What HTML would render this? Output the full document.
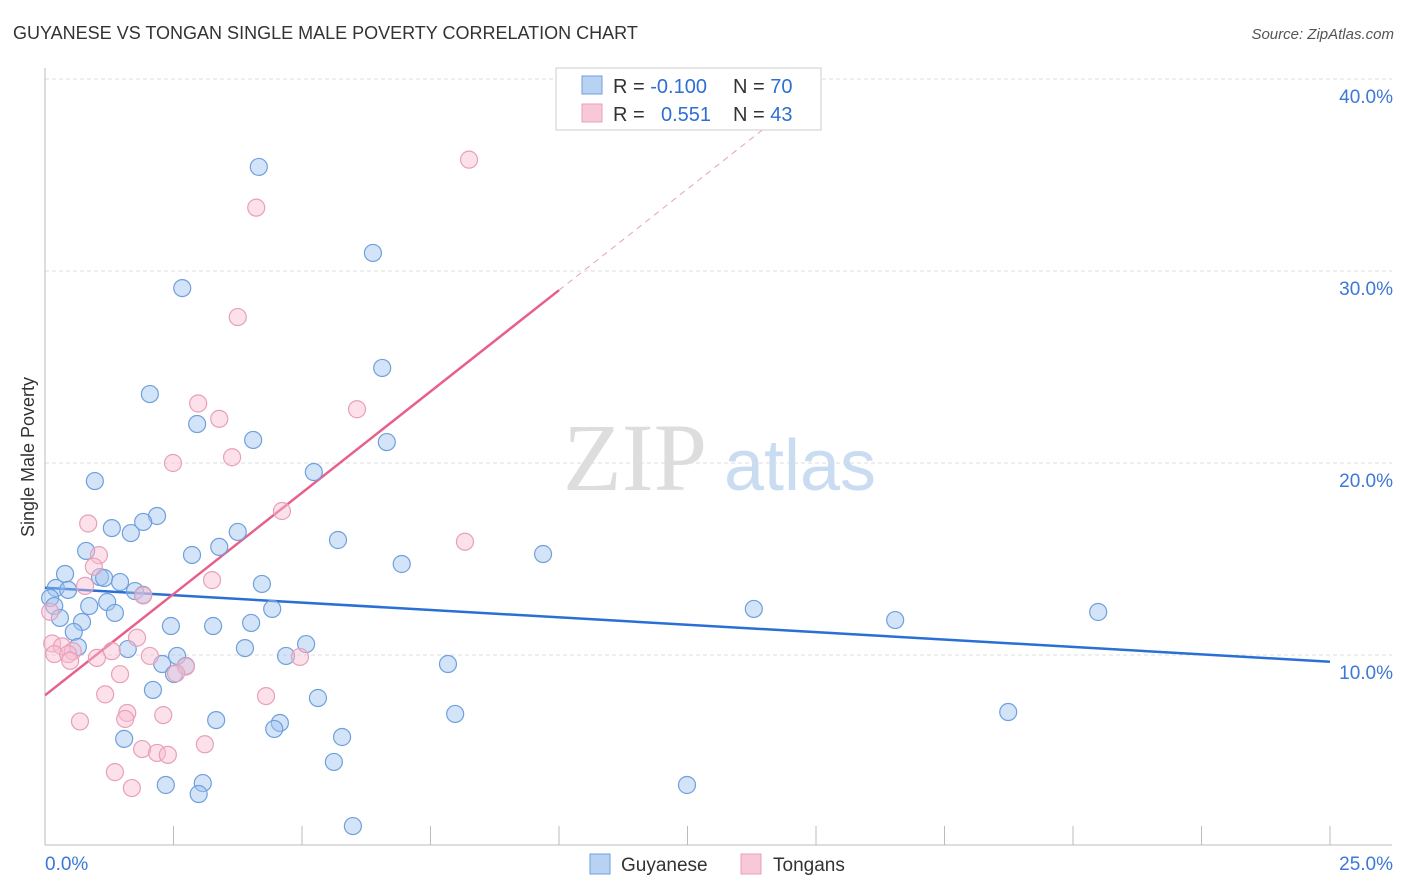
<!DOCTYPE html>
<html><head><meta charset="utf-8"><style>
body{margin:0;background:#fff;font-family:"Liberation Sans",sans-serif;}
svg{display:block}
</style></head><body>
<svg id="chart" width="1406" height="892">
<text x="13" y="39" font-size="18" fill="#333">GUYANESE VS TONGAN SINGLE MALE POVERTY CORRELATION CHART</text>
<text x="1394" y="39" font-size="15" fill="#555" font-style="italic" text-anchor="end">Source: ZipAtlas.com</text>
<text x="34" y="457" font-size="18" fill="#333" transform="rotate(-90 34 457)" text-anchor="middle">Single Male Poverty</text>
<g>
<text x="635" y="490" font-size="96" fill="#ddd" font-family="Liberation Serif,serif" text-anchor="middle">ZIP</text>
<text x="800" y="490" font-size="72" fill="#c9dcf2" text-anchor="middle">atlas</text>
</g>
<g id="grid"></g><g id="ticks"></g><g id="lines"></g><g id="pts"></g>
<g>
<rect x="556" y="68" width="265" height="62" fill="#fff" stroke="#ccc"/>
<rect x="582" y="76" width="20" height="18" fill="#b8d2f4" stroke="#6fa0dc"/>
<rect x="582" y="104" width="20" height="18" fill="#f9c8d8" stroke="#e8a0b8"/>
<text x="613" y="93" font-size="20" fill="#333">R = <tspan fill="#2e6fd3">-0.100</tspan><tspan x="733">N = </tspan><tspan fill="#2e6fd3">70</tspan></text>
<text x="613" y="121" font-size="20" fill="#333">R = <tspan x="661" fill="#2e6fd3">0.551</tspan><tspan x="733">N = </tspan><tspan fill="#2e6fd3">43</tspan></text>
</g>
<g>
<rect x="590" y="854" width="20" height="20" fill="#b8d2f4" stroke="#6fa0dc"/>
<text x="621" y="871" font-size="19" fill="#333">Guyanese</text>
<rect x="741" y="854" width="20" height="20" fill="#f9c8d8" stroke="#e8a0b8"/>
<text x="773" y="871" font-size="19" fill="#333">Tongans</text>
</g>
</svg>
<script>
const yTicks=[10,20,30,40];
const yTickLabels=["10.0%","20.0%","30.0%","40.0%"];
const xTickLabels=["0.0%","25.0%"];
const blueX=[4.16,6.38,2.67,6.56,2.04,2.96,4.05,6.65,5.23,0.97,2.18,1.30,1.91,1.67,3.75,3.39,5.70,2.86,0.80,9.69,6.94,0.39,1.07,1.15,1.46,4.22,0.21,0.45,1.75,1.91,0.10,1.21,0.86,0.18,13.79,4.42,1.36,20.49,16.54,0.29,0.72,2.45,3.27,4.01,0.56,5.08,0.64,1.61,3.89,2.57,4.69,2.28,2.74,7.84,2.51,2.10,5.31,3.33,4.57,4.46,7.98,18.74,1.54,5.78,5.62,2.35,3.07,2.99,12.49,5.99];
const blueY=[35.42,30.94,29.11,24.95,23.59,22.03,21.2,21.09,19.53,19.06,17.24,16.61,16.93,16.35,16.41,15.63,15.99,15.21,15.42,15.26,14.74,14.22,14.06,14.01,13.8,13.7,13.49,13.39,13.33,13.13,12.97,12.76,12.55,12.55,12.4,12.4,12.19,12.24,11.82,11.93,11.72,11.51,11.51,11.67,11.2,10.57,10.42,10.31,10.36,9.95,9.95,9.53,9.43,9.53,9.01,8.18,7.76,6.61,6.46,6.15,6.93,7.03,5.63,5.73,4.43,3.23,3.33,2.76,3.23,1.09];
const pinkX=[8.25,4.11,3.75,2.98,6.07,3.39,3.64,2.49,4.61,0.84,8.17,1.05,0.95,3.25,0.78,1.91,0.10,1.79,0.14,0.33,1.30,0.54,0.18,1.01,0.45,2.04,4.96,0.49,2.74,2.55,1.46,1.17,4.30,1.60,1.56,2.30,0.68,3.11,1.89,2.18,2.39,1.36,1.69];
const pinkY=[35.8,33.3,27.6,23.1,22.8,22.3,20.3,20.0,17.5,16.85,15.9,15.2,14.6,13.9,13.6,13.1,12.25,10.9,10.6,10.45,10.2,10.2,10.05,9.85,10.05,9.95,9.9,9.7,9.4,9.05,9.0,7.95,7.86,6.98,6.67,6.87,6.54,5.35,5.1,4.9,4.8,3.9,3.07];
const blueTrendX=[0,25]; const blueTrendY=[13.5,9.65];
const pinkTrendX=[0,10]; const pinkTrendY=[7.9,29.0]; const pinkDashEndX=15.0;
const X0=45,X1=1330,Y0=847,PY=19.2;
const sx=v=>X0+(X1-X0)*v/25, sy=v=>Y0-v*PY;
const NS="http://www.w3.org/2000/svg";
function mk(tag,attrs,parent){const e=document.createElementNS(NS,tag);for(const k in attrs)e.setAttribute(k,attrs[k]);document.getElementById(parent).appendChild(e);return e;}
yTicks.forEach((t,i)=>{
 const g=mk('line',{x1:X0,x2:1392,y1:sy(t),y2:sy(t),stroke:'#ddd','stroke-dasharray':'4,3'},'grid');
 
 
 const l=mk('text',{x:1393,y:sy(t)+24,'font-size':19,fill:'#3b78d8','text-anchor':'end'},'ticks');
 l.textContent=yTickLabels[i];
 
 
});
const ax=mk('line',{x1:X0,x2:1392,y1:845,y2:845,stroke:'#bbb'},'grid');


const ay=mk('line',{x1:X0,x2:X0,y1:68,y2:845,stroke:'#bbb'},'grid');


for(let i=1;i<=10;i++){const t=mk('line',{x1:sx(i*2.5),x2:sx(i*2.5),y1:826,y2:845,stroke:'#bbb'},'grid');
 
 }
[[0,'start',45],[1,'end',1393]].forEach(([i,a,x])=>{const l=mk('text',{x:x,y:870,'font-size':19,fill:'#3b78d8','text-anchor':a},'ticks');l.textContent=xTickLabels[i];
 
 });
function pts(xs,ys,fill,stroke,name){xs.forEach((x,i)=>{const c=mk('circle',{cx:sx(x),cy:sy(ys[i]),r:8.5,fill:fill,stroke:stroke,'stroke-width':1.2},'pts');
 
 });}
pts(blueX,blueY,'rgba(160,196,240,0.45)','#6fa0dc','guyanese-point');
pts(pinkX,pinkY,'rgba(248,188,208,0.45)','#e8a0b8','tongan-point');
const bt=mk('line',{x1:sx(blueTrendX[0]),y1:sy(blueTrendY[0]),x2:sx(blueTrendX[1]),y2:sy(blueTrendY[1]),stroke:'#2a6fd6','stroke-width':2.5},'lines');


const pt=mk('line',{x1:sx(pinkTrendX[0]),y1:sy(pinkTrendY[0]),x2:sx(pinkTrendX[1]),y2:sy(pinkTrendY[1]),stroke:'#e8608a','stroke-width':2.5},'lines');


const slope=(pinkTrendY[1]-pinkTrendY[0])/(pinkTrendX[1]-pinkTrendX[0]);
const pd=mk('line',{x1:sx(pinkTrendX[1]),y1:sy(pinkTrendY[1]),x2:sx(pinkDashEndX),y2:sy(pinkTrendY[0]+slope*pinkDashEndX),stroke:'#e8a0b8','stroke-width':1,'stroke-dasharray':'6,5'},'lines');


</script>
</body></html>
